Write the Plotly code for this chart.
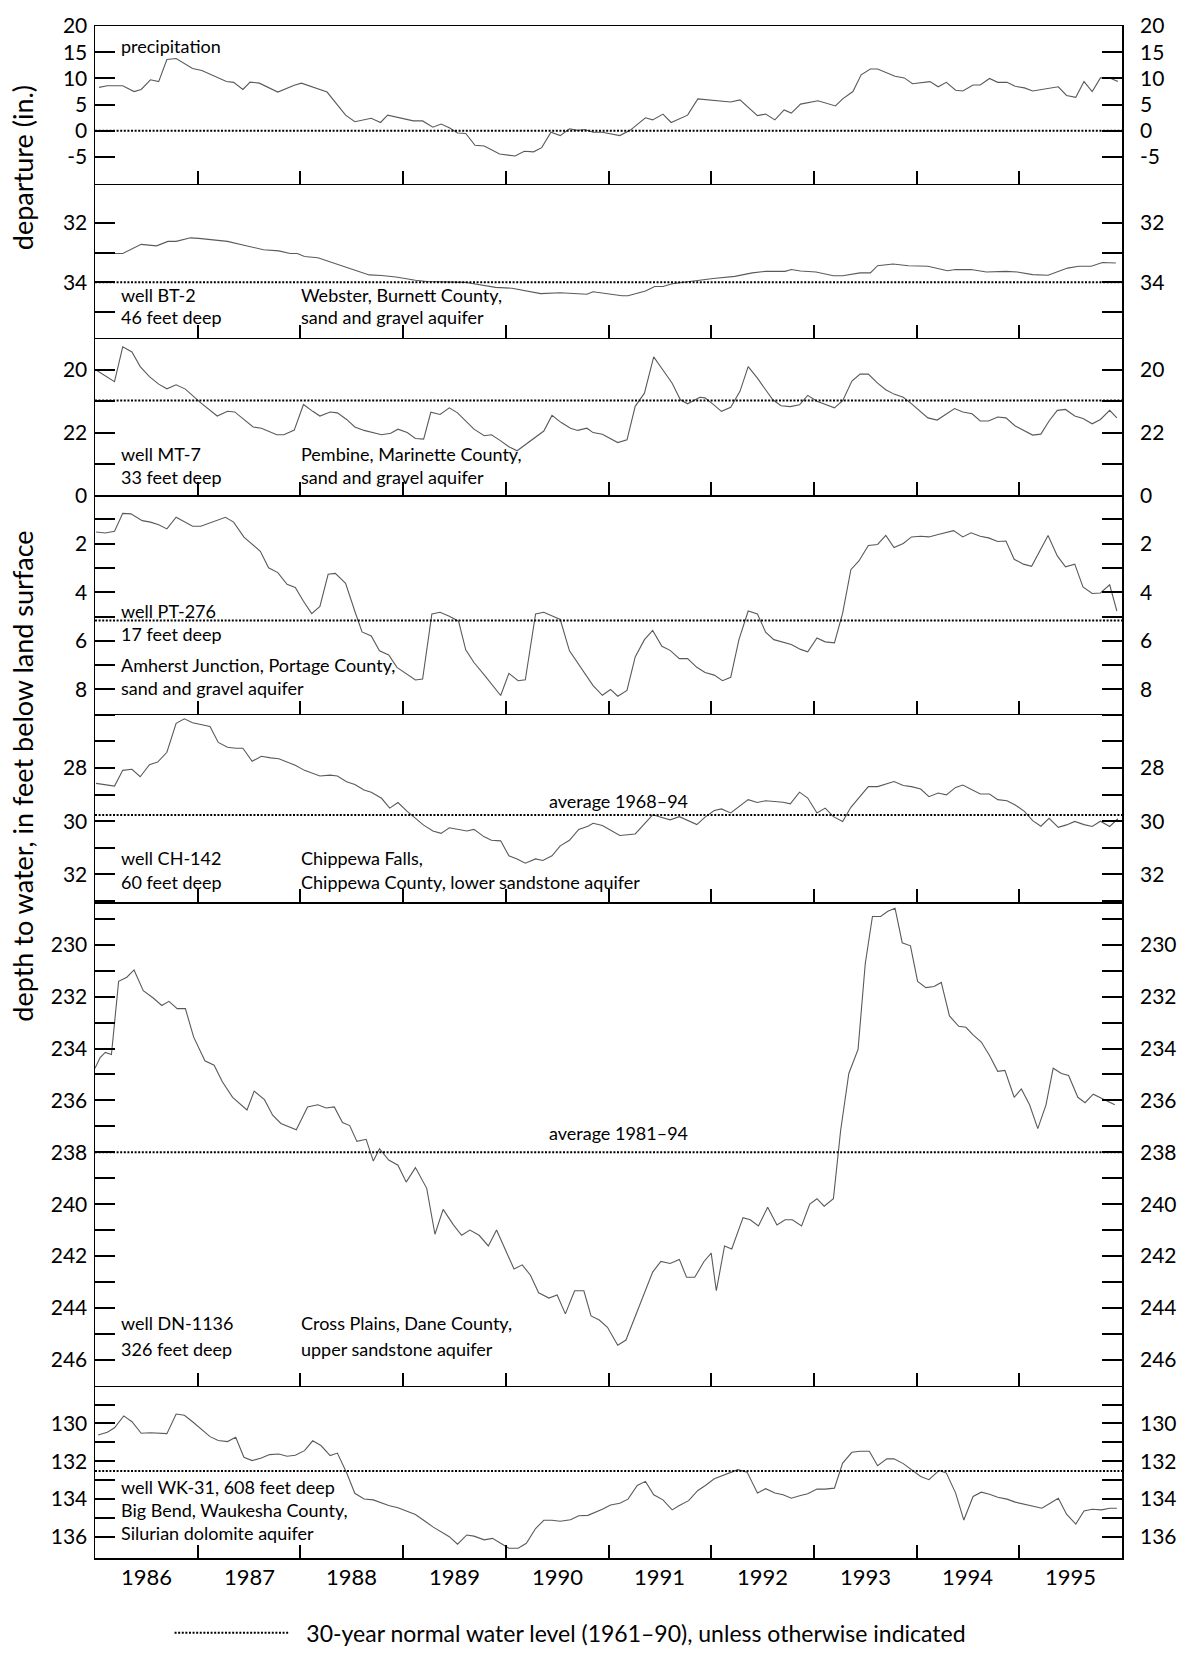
import plotly.graph_objects as go

# ---------------- data ----------------
YEARS = [1986, 1987, 1988, 1989, 1990, 1991, 1992, 1993, 1994, 1995]

PRECIP_X = [1986.04, 1986.12, 1986.27, 1986.38, 1986.45, 1986.54, 1986.62, 1986.70, 1986.79, 1986.95,
            1987.04, 1987.28, 1987.35, 1987.44, 1987.51, 1987.60, 1987.78, 1987.85, 1987.94, 1988.01,
            1988.26, 1988.44, 1988.53, 1988.69, 1988.78, 1988.85, 1989.10, 1989.19, 1989.29, 1989.37,
            1989.45, 1989.53, 1989.61, 1989.70, 1989.79, 1989.94, 1990.09, 1990.18, 1990.27, 1990.35,
            1990.44, 1990.53, 1990.62, 1990.70, 1990.77, 1990.85, 1990.94, 1991.11, 1991.21, 1991.36,
            1991.43, 1991.53, 1991.61, 1991.77, 1991.87, 1992.19, 1992.28, 1992.45, 1992.53, 1992.62,
            1992.71, 1992.78, 1992.87, 1993.04, 1993.21, 1993.28, 1993.38, 1993.46, 1993.55, 1993.62,
            1993.79, 1993.88, 1993.96, 1994.13, 1994.21, 1994.29, 1994.38, 1994.45, 1994.55, 1994.62,
            1994.71, 1994.79, 1994.88, 1994.96, 1995.05, 1995.13, 1995.21, 1995.38, 1995.46, 1995.55,
            1995.63, 1995.71, 1995.79, 1995.88, 1995.96]
PRECIP_Y = [8.3, 8.6, 8.6, 7.5, 7.9, 9.75, 9.4, 13.6, 13.8, 11.9,
            11.5, 9.4, 9.25, 7.9, 9.3, 9.1, 7.4, 8.0, 8.7, 9.1,
            7.4, 3.0, 1.75, 2.4, 1.6, 3.0, 1.9, 1.9, 0.7, 1.3,
            0.6, -0.4, -0.5, -2.75, -2.9, -4.4, -4.8, -3.9, -4.0, -3.2,
            -0.25, -0.9, 0.4, 0.1, 0.25, -0.25, -0.25, -0.9, 0.1, 2.5,
            2.1, 3.2, 1.6, 3.0, 6.1, 5.5, 5.9, 2.9, 3.2, 2.1,
            4.0, 3.4, 5.1, 5.75, 4.75, 6.1, 7.5, 10.7, 11.8, 11.8,
            10.4, 10.1, 9.0, 9.4, 8.4, 9.25, 7.75, 7.6, 8.75, 8.75,
            10.0, 9.25, 9.25, 8.5, 8.2, 7.6, 7.9, 8.4, 6.75, 6.4,
            9.4, 7.5, 10.1, 10.1, 9.4]

BT2_X = [1986.03, 1986.16, 1986.27, 1986.45, 1986.60, 1986.71, 1986.79, 1986.93, 1987.01, 1987.29,
         1987.45, 1987.64, 1987.79, 1987.90, 1987.97, 1988.04, 1988.17, 1988.41, 1988.67, 1988.79,
         1988.93, 1989.12, 1989.23, 1989.60, 1989.90, 1990.06, 1990.34, 1990.53, 1990.79, 1990.85,
         1991.02, 1991.13, 1991.19, 1991.36, 1991.45, 1991.53, 1991.62, 1991.81, 1992.02, 1992.23,
         1992.40, 1992.53, 1992.72, 1992.78, 1992.87, 1993.02, 1993.19, 1993.28, 1993.45, 1993.55,
         1993.62, 1993.77, 1993.92, 1994.11, 1994.30, 1994.38, 1994.53, 1994.68, 1994.87, 1994.98,
         1995.13, 1995.28, 1995.47, 1995.58, 1995.70, 1995.81, 1995.94]
BT2_Y = [33.0, 33.03, 33.03, 32.72, 32.77, 32.62, 32.62, 32.5, 32.52, 32.62,
         32.75, 32.9, 32.94, 33.03, 33.03, 33.13, 33.17, 33.45, 33.75, 33.77,
         33.82, 33.93, 33.97, 34.0, 34.17, 34.2, 34.38, 34.35, 34.4, 34.32,
         34.4, 34.45, 34.45, 34.29, 34.14, 34.14, 34.05, 33.96, 33.87, 33.8,
         33.68, 33.63, 33.63, 33.57, 33.62, 33.65, 33.78, 33.78, 33.68, 33.68,
         33.44, 33.38, 33.44, 33.46, 33.61, 33.57, 33.57, 33.65, 33.63, 33.65,
         33.74, 33.76, 33.52, 33.46, 33.46, 33.33, 33.35]

MT7_X = [1986.01, 1986.19, 1986.27, 1986.36, 1986.44, 1986.53, 1986.62, 1986.70, 1986.79, 1986.88,
         1987.03, 1987.19, 1987.29, 1987.36, 1987.54, 1987.62, 1987.77, 1987.84, 1987.94, 1988.03,
         1988.12, 1988.19, 1988.29, 1988.36, 1988.45, 1988.53, 1988.62, 1988.79, 1988.88, 1988.95,
         1989.04, 1989.12, 1989.20, 1989.27, 1989.36, 1989.45, 1989.53, 1989.69, 1989.79, 1989.86,
         1989.94, 1990.03, 1990.11, 1990.29, 1990.37, 1990.45, 1990.54, 1990.63, 1990.70, 1990.79,
         1990.85, 1990.94, 1991.02, 1991.09, 1991.18, 1991.26, 1991.35, 1991.44, 1991.53, 1991.62,
         1991.70, 1991.77, 1991.89, 1991.94, 1992.02, 1992.10, 1992.19, 1992.28, 1992.36, 1992.45,
         1992.53, 1992.60, 1992.68, 1992.77, 1992.86, 1992.94, 1993.03, 1993.11, 1993.20, 1993.28,
         1993.37, 1993.45, 1993.53, 1993.62, 1993.70, 1993.78, 1993.87, 1993.94, 1994.04, 1994.11,
         1994.20, 1994.28, 1994.37, 1994.45, 1994.54, 1994.62, 1994.70, 1994.79, 1994.87, 1994.96,
         1995.05, 1995.13, 1995.21, 1995.29, 1995.37, 1995.45, 1995.54, 1995.62, 1995.71, 1995.79,
         1995.88, 1995.95]
MT7_Y = [20.0, 20.37, 19.26, 19.42, 19.89, 20.21, 20.45, 20.6, 20.47, 20.61,
         21.05, 21.47, 21.32, 21.34, 21.82, 21.86, 22.07, 22.07, 21.92, 21.1,
         21.32, 21.47, 21.34, 21.37, 21.58, 21.82, 21.93, 22.07, 22.02, 21.89,
         22.0, 22.19, 22.21, 21.35, 21.42, 21.21, 21.37, 21.89, 22.1, 22.07,
         22.24, 22.45, 22.58, 22.16, 21.95, 21.45, 21.68, 21.86, 21.93, 21.86,
         22.0, 22.05, 22.18, 22.32, 22.23, 21.16, 20.74, 19.58, 20.0, 20.42,
         20.95, 21.08, 20.87, 20.89, 21.1, 21.32, 21.19, 20.68, 19.89, 20.26,
         20.63, 20.95, 21.14, 21.17, 21.11, 20.81, 21.0, 21.1, 21.21, 20.98,
         20.35, 20.13, 20.13, 20.42, 20.63, 20.77, 20.87, 21.05, 21.34, 21.53,
         21.6, 21.42, 21.23, 21.34, 21.4, 21.63, 21.63, 21.5, 21.53, 21.79,
         21.93, 22.08, 22.05, 21.63, 21.29, 21.26, 21.47, 21.55, 21.72, 21.58,
         21.29, 21.53]

PT276_X = [1986.01, 1986.10, 1986.19, 1986.27, 1986.35, 1986.46, 1986.54, 1986.62, 1986.70, 1986.79,
           1986.95, 1987.03, 1987.27, 1987.35, 1987.45, 1987.61, 1987.69, 1987.78, 1987.87, 1987.95,
           1988.03, 1988.11, 1988.19, 1988.27, 1988.34, 1988.44, 1988.53, 1988.60, 1988.69, 1988.77,
           1988.86, 1988.94, 1989.12, 1989.19, 1989.28, 1989.36, 1989.45, 1989.54, 1989.61, 1989.69,
           1989.79, 1989.95, 1990.03, 1990.12, 1990.19, 1990.29, 1990.37, 1990.45, 1990.53, 1990.62,
           1990.79, 1990.85, 1990.94, 1991.02, 1991.09, 1991.18, 1991.26, 1991.35, 1991.43, 1991.52,
           1991.60, 1991.69, 1991.77, 1991.86, 1991.94, 1992.03, 1992.11, 1992.19, 1992.27, 1992.36,
           1992.45, 1992.53, 1992.61, 1992.70, 1992.78, 1992.87, 1992.94, 1993.03, 1993.11, 1993.20,
           1993.28, 1993.36, 1993.44, 1993.53, 1993.62, 1993.70, 1993.78, 1993.87, 1993.95, 1994.04,
           1994.12, 1994.21, 1994.36, 1994.45, 1994.53, 1994.62, 1994.70, 1994.79, 1994.87, 1994.95,
           1995.04, 1995.12, 1995.28, 1995.37, 1995.45, 1995.54, 1995.62, 1995.71, 1995.79, 1995.88,
           1995.95]
PT276_Y = [1.52, 1.56, 1.49, 0.75, 0.77, 1.05, 1.11, 1.22, 1.39, 0.91,
           1.28, 1.28, 0.91, 1.11, 1.73, 2.31, 2.99, 3.19, 3.67, 3.8,
           4.37, 4.88, 4.58, 3.26, 3.22, 3.63, 4.78, 5.63, 5.8, 6.41,
           6.58, 7.09, 7.61, 7.57, 4.89, 4.82, 4.99, 5.19, 6.37, 6.89,
           7.4, 8.25, 7.34, 7.64, 7.6, 4.89, 4.82, 4.96, 5.12, 6.41,
           7.43, 7.84, 8.24, 8.0, 8.28, 8.04, 6.66, 5.95, 5.57, 6.22,
           6.39, 6.73, 6.73, 7.09, 7.3, 7.41, 7.64, 7.5, 5.95, 4.77,
           4.89, 5.64, 5.95, 6.04, 6.15, 6.35, 6.45, 5.88, 6.04, 6.08,
           4.86, 3.07, 2.7, 2.07, 2.03, 1.66, 2.16, 1.99, 1.72, 1.69,
           1.72, 1.62, 1.46, 1.72, 1.55, 1.69, 1.76, 1.91, 1.89, 2.64,
           2.84, 2.93, 1.66, 2.5, 2.95, 2.84, 3.78, 4.05, 4.03, 3.69,
           4.77]

CH142_X = [1986.01, 1986.10, 1986.19, 1986.27, 1986.36, 1986.44, 1986.53, 1986.61, 1986.70, 1986.79,
           1986.87, 1986.95, 1987.03, 1987.12, 1987.20, 1987.29, 1987.37, 1987.44, 1987.53, 1987.62,
           1987.71, 1987.79, 1987.95, 1988.04, 1988.19, 1988.29, 1988.36, 1988.45, 1988.53, 1988.62,
           1988.69, 1988.79, 1988.87, 1988.95, 1989.04, 1989.12, 1989.20, 1989.29, 1989.37, 1989.45,
           1989.62, 1989.69, 1989.79, 1989.86, 1989.95, 1990.03, 1990.11, 1990.19, 1990.29, 1990.36,
           1990.45, 1990.53, 1990.62, 1990.71, 1990.80, 1990.85, 1990.94, 1991.11, 1991.26, 1991.43,
           1991.60, 1991.69, 1991.86, 1991.94, 1992.03, 1992.10, 1992.19, 1992.36, 1992.45, 1992.53,
           1992.70, 1992.77, 1992.86, 1992.94, 1993.03, 1993.11, 1993.19, 1993.28, 1993.36, 1993.53,
           1993.62, 1993.78, 1993.87, 1993.95, 1994.04, 1994.12, 1994.21, 1994.29, 1994.38, 1994.45,
           1994.54, 1994.62, 1994.71, 1994.79, 1994.88, 1994.96, 1995.05, 1995.13, 1995.21, 1995.29,
           1995.38, 1995.46, 1995.54, 1995.63, 1995.71, 1995.79, 1995.88, 1995.96]
CH142_Y = [28.58, 28.62, 28.68, 28.09, 28.05, 28.33, 27.88, 27.78, 27.41, 26.32,
           26.15, 26.3, 26.36, 26.44, 27.04, 27.22, 27.26, 27.26, 27.75, 27.56,
           27.62, 27.65, 27.9, 28.09, 28.3, 28.27, 28.3, 28.52, 28.62, 28.83,
           28.91, 29.14, 29.51, 29.3, 29.63, 29.9, 30.15, 30.37, 30.46, 30.25,
           30.37, 30.31, 30.59, 30.72, 30.74, 31.3, 31.42, 31.58, 31.42, 31.48,
           31.3, 30.93, 30.72, 30.31, 30.19, 30.08, 30.16, 30.54, 30.48, 29.76,
           29.95, 29.83, 30.13, 29.85, 29.6, 29.54, 29.69, 29.19, 29.3, 29.23,
           29.29, 29.35, 28.91, 29.13, 29.69, 29.51, 29.83, 30.01, 29.48, 28.7,
           28.7, 28.51, 28.66, 28.7, 28.79, 29.08, 28.94, 29.01, 28.73, 28.64,
           28.83, 28.98, 28.98, 29.19, 29.23, 29.39, 29.63, 29.98, 30.19, 29.89,
           30.23, 30.14, 30.01, 30.13, 30.2, 30.0, 30.2, 29.91]

DN1136_X = [1986.00, 1986.05, 1986.10, 1986.16, 1986.23, 1986.31, 1986.38, 1986.47, 1986.57, 1986.65,
            1986.72, 1986.80, 1986.88, 1986.96, 1987.07, 1987.16, 1987.24, 1987.34, 1987.48, 1987.55,
            1987.65, 1987.73, 1987.81, 1987.96, 1988.07, 1988.17, 1988.25, 1988.33, 1988.41, 1988.48,
            1988.55, 1988.64, 1988.71, 1988.77, 1988.86, 1988.95, 1989.03, 1989.12, 1989.23, 1989.31,
            1989.39, 1989.49, 1989.57, 1989.65, 1989.74, 1989.83, 1989.91, 1990.08, 1990.16, 1990.24,
            1990.32, 1990.42, 1990.50, 1990.58, 1990.67, 1990.76, 1990.83, 1990.91, 1990.99, 1991.09,
            1991.17, 1991.29, 1991.43, 1991.51, 1991.60, 1991.69, 1991.76, 1991.84, 1991.93, 1992.00,
            1992.05, 1992.13, 1992.20, 1992.31, 1992.38, 1992.46, 1992.55, 1992.64, 1992.72, 1992.79,
            1992.88, 1992.96, 1993.03, 1993.10, 1993.19, 1993.26, 1993.34, 1993.43, 1993.50, 1993.57,
            1993.65, 1993.72, 1993.79, 1993.86, 1993.94, 1994.01, 1994.09, 1994.17, 1994.24, 1994.32,
            1994.41, 1994.48, 1994.55, 1994.63, 1994.71, 1994.79, 1994.86, 1994.95, 1995.02, 1995.10,
            1995.18, 1995.26, 1995.33, 1995.41, 1995.48, 1995.57, 1995.64, 1995.72, 1995.82, 1995.93]
DN1136_Y = [234.76, 234.35, 234.15, 234.23, 231.41, 231.25, 230.97, 231.77, 232.06, 232.34,
            232.18, 232.46, 232.46, 233.55, 234.47, 234.64, 235.28, 235.88, 236.37, 235.64,
            235.97, 236.57, 236.89, 237.13, 236.25, 236.17, 236.29, 236.25, 236.85, 236.97,
            237.58, 237.5, 238.34, 237.86, 238.3, 238.5, 239.15, 238.59, 239.39, 241.16,
            240.2, 240.8, 241.2, 241.0, 241.2, 241.61, 241.0, 242.5, 242.34, 242.74,
            243.42, 243.62, 243.5, 244.23, 243.34, 243.34, 244.31, 244.47, 244.75, 245.44,
            245.24, 244.03, 242.62, 242.21, 242.29, 242.13, 242.82, 242.82, 242.21, 241.89,
            243.34, 241.61, 241.73, 240.52, 240.6, 240.84, 240.12, 240.8, 240.6, 240.6,
            240.84, 240.0, 239.79, 240.08, 239.79, 237.17, 234.96, 234.03, 230.73, 228.91,
            228.91, 228.71, 228.59, 229.92, 230.04, 231.41, 231.65, 231.61, 231.45, 232.74,
            233.14, 233.18, 233.47, 233.75, 234.27, 234.88, 234.84, 235.88, 235.56, 236.17,
            237.09, 236.17, 234.76, 234.96, 235.04, 235.88, 236.09, 235.76, 235.97, 236.17]

WK31_X = [1986.03, 1986.12, 1986.19, 1986.28, 1986.36, 1986.45, 1986.54, 1986.70, 1986.79, 1986.87,
          1986.95, 1987.03, 1987.12, 1987.20, 1987.29, 1987.37, 1987.45, 1987.53, 1987.62, 1987.70,
          1987.79, 1987.87, 1987.95, 1988.04, 1988.12, 1988.20, 1988.29, 1988.36, 1988.45, 1988.53,
          1988.62, 1988.71, 1988.86, 1988.95, 1989.04, 1989.12, 1989.20, 1989.29, 1989.45, 1989.53,
          1989.62, 1989.69, 1989.79, 1989.87, 1989.95, 1990.03, 1990.12, 1990.20, 1990.29, 1990.37,
          1990.45, 1990.53, 1990.63, 1990.71, 1990.80, 1990.85, 1990.94, 1991.02, 1991.11, 1991.19,
          1991.28, 1991.36, 1991.44, 1991.53, 1991.62, 1991.69, 1991.78, 1991.87, 1991.94, 1992.03,
          1992.11, 1992.26, 1992.35, 1992.45, 1992.53, 1992.62, 1992.70, 1992.78, 1992.87, 1992.94,
          1993.03, 1993.11, 1993.20, 1993.28, 1993.37, 1993.45, 1993.54, 1993.62, 1993.71, 1993.78,
          1993.87, 1993.95, 1994.04, 1994.12, 1994.22, 1994.29, 1994.38, 1994.46, 1994.55, 1994.63,
          1994.71, 1994.79, 1994.88, 1994.96, 1995.05, 1995.13, 1995.22, 1995.30, 1995.38, 1995.46,
          1995.55, 1995.63, 1995.71, 1995.80, 1995.88, 1995.95]
WK31_Y = [130.61, 130.47, 130.23, 129.6, 129.91, 130.52, 130.49, 130.54, 129.5, 129.57,
          129.91, 130.26, 130.7, 130.9, 130.96, 130.73, 131.79, 131.97, 131.83, 131.65,
          131.62, 131.74, 131.69, 131.44, 130.92, 131.17, 131.7, 131.57, 132.61, 133.7,
          134.0, 134.05, 134.35, 134.47, 134.66, 134.83, 135.13, 135.48, 136.0, 136.4,
          135.91, 135.97, 136.17, 136.09, 136.35, 136.61, 136.61, 136.35, 135.57, 135.13,
          135.13, 135.18, 135.1, 134.89, 134.87, 134.76, 134.55, 134.32, 134.23, 134.01,
          133.29, 133.07, 133.78, 134.05, 134.58, 134.35, 134.09, 133.55, 133.3, 132.93,
          132.77, 132.45, 132.58, 133.69, 133.46, 133.69, 133.78, 133.96, 133.82, 133.73,
          133.48, 133.48, 133.43, 132.1, 131.53, 131.47, 131.47, 132.24, 131.88, 131.87,
          132.13, 132.45, 132.81, 132.98, 132.49, 132.63, 133.69, 135.12, 133.87, 133.64,
          133.75, 133.91, 134.01, 134.17, 134.28, 134.35, 134.49, 134.23, 133.96, 134.81,
          135.33, 134.64, 134.55, 134.58, 134.49, 134.49]

# reference (normal / average) levels per panel
NORMALS = [0.0, 34.0, 20.97, 5.16, 29.77, 238.0, 132.52]

# y tick values and labels per panel
TICKVALS = [
    [20, 15, 10, 5, 0, -5],
    [32, 33, 34, 35],
    [19, 20, 21, 22, 23, 24],
    [0, 1, 2, 3, 4, 5, 6, 7, 8, 9],
    [26, 27, 28, 29, 30, 31, 32, 33],
    list(range(229, 247)),
    [129, 130, 131, 132, 133, 134, 135, 136],
]
LABELLED = [
    [20, 15, 10, 5, 0, -5],
    [32, 34],
    [20, 22],
    [0, 2, 4, 6, 8],
    [28, 30, 32],
    [230, 232, 234, 236, 238, 240, 242, 244, 246],
    [130, 132, 134, 136],
]

SERIES = [(PRECIP_X, PRECIP_Y), (BT2_X, BT2_Y), (MT7_X, MT7_Y), (PT276_X, PT276_Y),
          (CH142_X, CH142_Y), (DN1136_X, DN1136_Y), (WK31_X, WK31_Y)]

# text labels (panel, x in years, y in panel units, text)
XA, XB = 1986.23, 1987.99
LEFT_TEXT = [
    (1, XA, 16.2, "precipitation"),
    (2, XA, 34.43, "well BT-2"), (2, XA, 35.17, "46 feet deep"),
    (2, XB, 34.43, "Webster, Burnett County,"), (2, XB, 35.17, "sand and gravel aquifer"),
    (3, XA, 22.68, "well MT-7"), (3, XA, 23.42, "33 feet deep"),
    (3, XB, 22.68, "Pembine, Marinette County,"), (3, XB, 23.42, "sand and gravel aquifer"),
    (4, XA, 4.77, "well PT-276"), (4, XA, 5.72, "17 feet deep"),
    (4, XA, 7.0, "Amherst Junction, Portage County,"), (4, XA, 7.95, "sand and gravel aquifer"),
    (5, XA, 31.39, "well CH-142"), (5, XA, 32.27, "60 feet deep"),
    (5, XB, 31.39, "Chippewa Falls,"), (5, XB, 32.27, "Chippewa County, lower sandstone aquifer"),
    (6, XA, 244.59, "well DN-1136"), (6, XA, 245.6, "326 feet deep"),
    (6, XB, 244.59, "Cross Plains, Dane County,"), (6, XB, 245.6, "upper sandstone aquifer"),
    (7, XA, 133.39, "well WK-31, 608 feet deep"), (7, XA, 134.6, "Big Bend, Waukesha County,"),
    (7, XA, 135.82, "Silurian dolomite aquifer"),
]
CENTER_TEXT = [
    (5, 1991.10, 29.24, "average 1968\u201394"),
    (6, 1991.10, 237.26, "average 1981\u201394"),
]
LEGEND_TEXT = "\u00a0\u00a030-year normal water level (1961\u201390), unless otherwise indicated"

# ---------------- layout geometry ----------------
W, H = 1189, 1666
ML, MR, MT, MB = 95, 61, 19, 91
# panel edges in pixels (top, bottom)
EDGES = [(19, 179.3), (179.3, 335.7), (335.7, 495.5), (495.5, 717.5), (717.5, 909), (909, 1400), (1400, 1575)]
RANGES = [[-10.1, 20], [35.87, 30.68], [24.0, 18.97], [9.0, 0.0], [33.05, 25.96], [247.0, 228.36], [137.13, 128.0]]
plot_h = H - MT - MB
plot_w = W - ML - MR

FONT = "Lato"
LINE_COL = "#5a5a5a"
TICK_SIZE = 21

fig = go.Figure()
layout = dict(
    width=W, height=H, margin=dict(l=ML, r=MR, t=MT, b=MB),
    paper_bgcolor="white", plot_bgcolor="white",
    font=dict(family=FONT, color="black", size=18),
    showlegend=True,
    legend=dict(x=(170 - ML) / plot_w, y=-(1651 - (H - MB)) / plot_h, xanchor="left", yanchor="middle",
                orientation="h", font=dict(size=23, family=FONT), itemwidth=115, bgcolor="rgba(0,0,0,0)"),
)
annotations = []
n = len(SERIES)
for i in range(n):
    k = i + 1
    top, bot = EDGES[i]
    d0 = (H - MB - bot) / plot_h
    d1 = (H - MB - top) / plot_h
    xs = "" if k == 1 else str(k)
    ys_right = str(k + n)
    layout["xaxis" + xs] = dict(
        domain=[0, 1], anchor="y" + xs, range=[YEARS[0], YEARS[-1] + 1],
        tickvals=YEARS[1:], ticks="inside", ticklen=13, tickwidth=2, tickcolor="black",
        showticklabels=False, showline=True, mirror=(k == 1), linecolor="black", linewidth=1.5,
        showgrid=False, zeroline=False, fixedrange=True)
    ticktext = [str(v) if v in LABELLED[i] else "" for v in TICKVALS[i]]
    common = dict(range=RANGES[i], tickvals=TICKVALS[i], ticktext=ticktext, ticks="inside",
                  ticklen=20, tickwidth=2, tickcolor="black", showgrid=False, zeroline=False,
                  tickfont=dict(size=TICK_SIZE, family=FONT, color="black"), fixedrange=True)
    layout["yaxis" + xs] = dict(domain=[d0, d1], anchor="x" + xs, side="left",
                                showline=True, mirror=True, linecolor="black", linewidth=1.5,
                                ticklabelstandoff=2, **common)
    layout["yaxis" + ys_right] = dict(domain=[d0, d1], anchor="x" + xs, side="right",
                                      overlaying="y" + xs, showline=False,
                                      ticklabelstandoff=17, **common)
    sx, sy = SERIES[i]
    fig.add_trace(go.Scatter(x=sx, y=sy, mode="lines", line=dict(color=LINE_COL, width=1.1),
                             xaxis="x" + xs, yaxis="y" + xs, showlegend=False, hoverinfo="skip"))
    fig.add_trace(go.Scatter(x=[YEARS[0], YEARS[-1] + 1], y=[NORMALS[i], NORMALS[i]], mode="lines",
                             line=dict(color="black", width=2, dash="2px,1.6px"),
                             xaxis="x" + xs, yaxis="y" + ys_right,
                             name=LEGEND_TEXT, showlegend=(i == 1), hoverinfo="skip"))

for (p, x, y, t) in LEFT_TEXT:
    xs = "" if p == 1 else str(p)
    annotations.append(dict(x=x, y=y, xref="x" + xs, yref="y" + xs, text=t, showarrow=False,
                            xanchor="left", yanchor="middle", font=dict(size=18, family=FONT)))
for (p, x, y, t) in CENTER_TEXT:
    xs = "" if p == 1 else str(p)
    annotations.append(dict(x=x, y=y, xref="x" + xs, yref="y" + xs, text=t, showarrow=False,
                            xanchor="center", yanchor="middle", font=dict(size=18, family=FONT)))
# year labels centred in each year
for yv in YEARS:
    annotations.append(dict(x=yv + 0.5, y=-(1594 - (H - MB)) / plot_h, xref="x7", yref="paper",
                            text=str(yv), showarrow=False, xanchor="center", yanchor="middle",
                            font=dict(size=22, family=FONT)))
# axis titles
annotations.append(dict(x=-(ML - 22) / plot_w, y=(H - MB - 163) / plot_h, xref="paper", yref="paper",
                        text="departure (in.)", textangle=-90, showarrow=False,
                        xanchor="center", yanchor="middle", font=dict(size=27, family=FONT)))
annotations.append(dict(x=-(ML - 22) / plot_w, y=(H - MB - 781) / plot_h, xref="paper", yref="paper",
                        text="depth to water, in feet below land surface", textangle=-90, showarrow=False,
                        xanchor="center", yanchor="middle", font=dict(size=27, family=FONT)))
layout["annotations"] = annotations
fig.update_layout(**layout)
fig.write_html("out.html", config={"displayModeBar": False, "staticPlot": True},
               post_script="document.body.style.margin='0';document.body.style.overflow='hidden';"
                           "document.documentElement.style.overflow='hidden';")
